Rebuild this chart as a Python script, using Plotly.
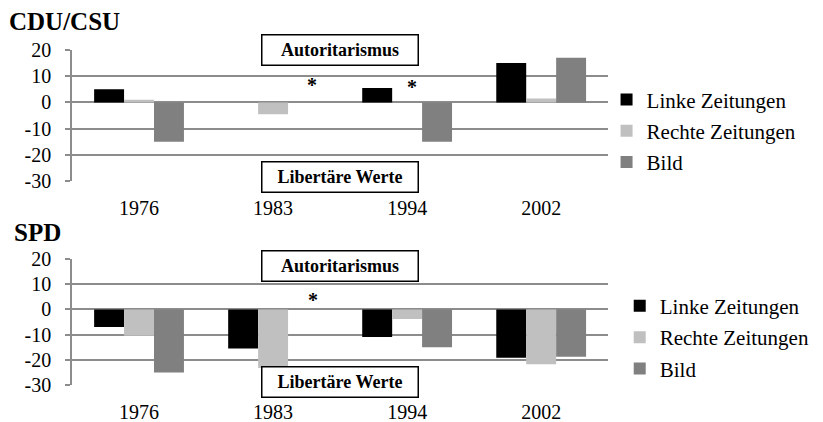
import plotly.graph_objects as go

# ------------------------------------------------------------
# Daten
# ------------------------------------------------------------
jahre = ["1976", "1983", "1994", "2002"]
serien = ["Linke Zeitungen", "Rechte Zeitungen", "Bild"]
farben = ["#000000", "#c0c0c0", "#808080"]

cdu_linke = [5, 0, 5.5, 15]
cdu_rechte = [1, -4.5, 0, 1.5]
cdu_bild = [-15, 0, -15, 17]

spd_linke = [-7, -15.5, -11, -19.2]
spd_rechte = [-10.5, -23.3, -3.8, -21.8]
spd_bild = [-25, 0, -15, -18.8]

y_ticks = [20, 10, 0, -10, -20, -30]
y_labels = [str(v) for v in y_ticks]
y_min, y_max = -30, 20

# Sternchen: (Jahr, Wert) je Panel
cdu_sterne = [("1983", 6.5), ("1994", 6.0)]
spd_sterne = [("1983", 3.6)]

SERIF = "Liberation Serif"
GRID = "#8c8c8c"

# Layout-Bereiche
x_dom = [0.0875, 0.739]
top_dom = [0.571, 0.8815]
bot_dom = [0.0877, 0.3863]

fig = go.Figure()

panels = [
    ("x", "y", "legend", [cdu_linke, cdu_rechte, cdu_bild]),
    ("x2", "y2", "legend2", [spd_linke, spd_rechte, spd_bild]),
]
for xa, ya, leg, werte in panels:
    for name, farbe, vals in zip(serien, farben, werte):
        fig.add_trace(go.Bar(
            x=jahre, y=vals, name=name, marker_color=farbe,
            marker_line_width=0, xaxis=xa, yaxis=ya, legend=leg,
            legendgroup=leg + name,
        ))


def zero_pos(dom):
    return dom[0] + (0 - y_min) / (y_max - y_min) * (dom[1] - dom[0])


yaxis_common = dict(
    range=[y_min, y_max], tickvals=y_ticks, ticktext=y_labels,
    showgrid=True, gridcolor=GRID, gridwidth=1.5, showline=True,
    linecolor=GRID, linewidth=1.5, ticks="outside", ticklen=5,
    tickcolor=GRID, tickwidth=1.5, zeroline=False,
    tickfont=dict(family=SERIF, size=20, color="black"),
    ticklabelstandoff=10, automargin=False, fixedrange=True,
)
xaxis_common = dict(
    domain=x_dom, showline=False, ticks="", showgrid=False,
    tickfont=dict(family=SERIF, size=20, color="black"),
    ticklabelstandoff=13, automargin=False, range=[-0.5, len(jahre) - 0.5],
    fixedrange=True,
)
# Nulllinie mit Teilstrichen zwischen den Kategorien
grenzen = [i + 0.5 for i in range(len(jahre))]
zero_common = dict(
    domain=x_dom, range=[-0.5, len(jahre) - 0.5], showline=True,
    linecolor=GRID, linewidth=1.5, ticks="outside", tickvals=grenzen,
    ticklen=6, tickcolor=GRID, tickwidth=1.5, showticklabels=False,
    showgrid=False, zeroline=False, anchor="free", automargin=False,
)

fig.update_layout(
    xaxis=dict(**xaxis_common, anchor="y"),
    yaxis=dict(**yaxis_common, domain=top_dom, anchor="x"),
    xaxis2=dict(**xaxis_common, anchor="y2"),
    yaxis2=dict(**yaxis_common, domain=bot_dom, anchor="x2"),
    xaxis3=dict(**zero_common, overlaying="x", position=zero_pos(top_dom)),
    xaxis4=dict(**zero_common, overlaying="x2", position=zero_pos(bot_dom)),
    barmode="group", bargap=0.33, bargroupgap=0,
    width=823, height=422,
    margin=dict(l=0, r=0, t=0, b=0),
    paper_bgcolor="white", plot_bgcolor="white",
    font=dict(family=SERIF, color="black"),
    legend=dict(x=0.737, y=0.69, xanchor="left", yanchor="middle",
                font=dict(family=SERIF, size=21), tracegroupgap=1,
                bgcolor="rgba(0,0,0,0)"),
    legend2=dict(x=0.753, y=0.201, xanchor="left", yanchor="middle",
                 font=dict(family=SERIF, size=21), tracegroupgap=1,
                 bgcolor="rgba(0,0,0,0)"),
)

# Panel-Titel
fig.add_annotation(text="<b>CDU/CSU</b>", xref="paper", yref="paper",
                   x=0.008, y=1 - 21 / 422, xanchor="left", yanchor="middle",
                   showarrow=False, font=dict(family=SERIF, size=25))
fig.add_annotation(text="<b>SPD</b>", xref="paper", yref="paper",
                   x=0.014, y=1 - 232 / 422, xanchor="left", yanchor="middle",
                   showarrow=False, font=dict(family=SERIF, size=25))

# Beschriftungskästen
kasten = [
    ("x", "y", "Autoritarismus", 20),
    ("x", "y", "Libertäre Werte", -28.6),
    ("x2", "y2", "Autoritarismus", 17.4),
    ("x2", "y2", "Libertäre Werte", -29),
]
for xa, ya, txt, yv in kasten:
    fig.add_annotation(
        text="<b>" + txt + "</b>", xref=xa, yref=ya, x=1.5, y=yv,
        showarrow=False, width=155, height=29, bgcolor="white",
        bordercolor="black", borderwidth=1.5, borderpad=0,
        font=dict(family=SERIF, size=18, color="black"),
    )

# Sternchen
for xa, ya, sterne, shifts in [("x", "y", cdu_sterne, [39, 5]),
                               ("x2", "y2", spd_sterne, [40])]:
    for (jahr, wert), dx in zip(sterne, shifts):
        fig.add_annotation(text="<b>*</b>", xref=xa, yref=ya,
                           x=jahre.index(jahr), y=wert,
                           xshift=dx, showarrow=False,
                           font=dict(family=SERIF, size=20, color="black"))

fig.write_html("out.html", config={"displayModeBar": False},
               post_script="document.body.style.margin='0';")
